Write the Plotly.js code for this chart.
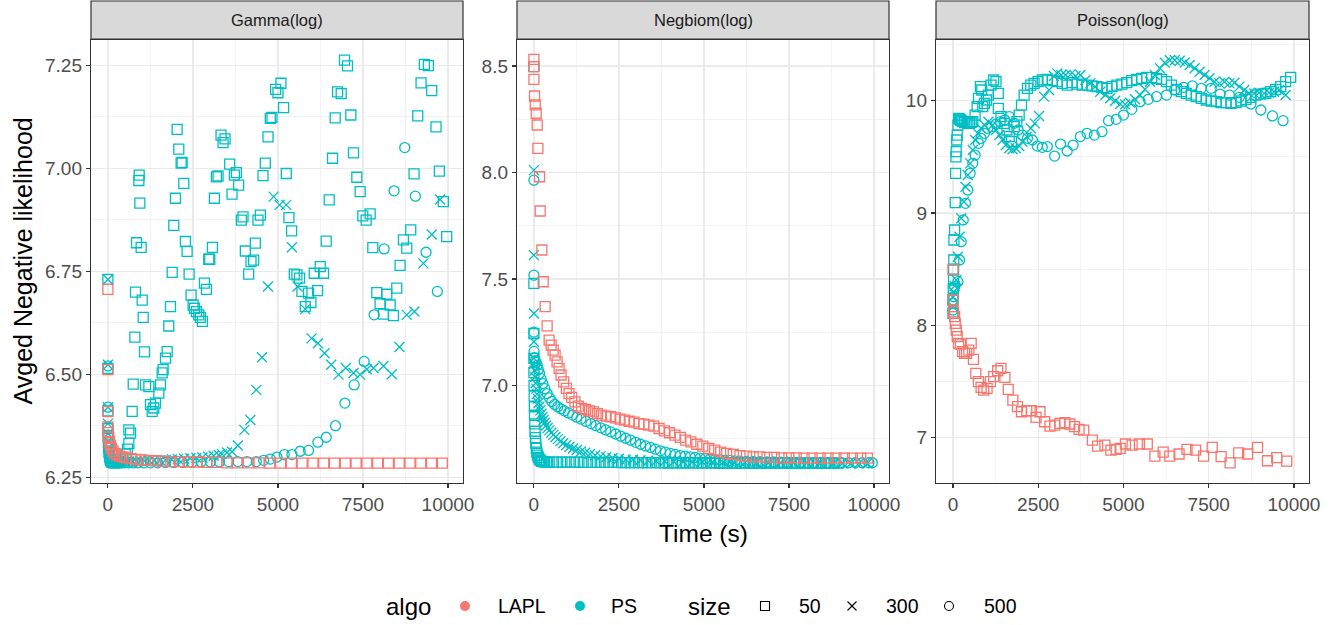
<!DOCTYPE html>
<html><head><meta charset="utf-8">
<script src="https://cdn.plot.ly/plotly-3.0.1.min.js"></script>
<style>html,body{margin:0;padding:0;background:#fff}#chart{width:1341px;height:625px}</style>
</head><body><div id="chart"></div>
<script>
// ---------------- DATA ----------------
const panelNames = ['Gamma(log)', 'Negbiom(log)', 'Poisson(log)'];
const algoNames = ['LAPL', 'PS'];
const sizeNames = ['50', '300', '500'];
const xTickVals = [0, 2500, 5000, 7500, 10000];

// Gamma(log)
const gammaLapl = [[0,6.706],[0,6.511],[0,6.409],[0,6.372],[10,6.358],[25,6.347],[45,6.337],[72,6.328],[106,6.320],[148,6.313],[200,6.308],[265,6.304],[345,6.301],[440,6.299],[550,6.297],[680,6.295],[830,6.293],[1000,6.292],[1190,6.291],[1395,6.290],[1615,6.289],[1850,6.288],[2100,6.288],[2360,6.287],[2630,6.287],[2910,6.286],[3200,6.286],[3500,6.285],[3810,6.285],[4127,6.285],[4444,6.285],[4761,6.284],[5078,6.284],[5395,6.284],[5712,6.284],[6029,6.284],[6346,6.284],[6663,6.284],[6980,6.284],[7297,6.284],[7614,6.284],[7931,6.284],[8248,6.284],[8565,6.284],[8882,6.284],[9199,6.284],[9516,6.284],[9833,6.284]];
const gammaPs50 = [[0,6.730],[0,6.514],[0,6.411],[0,6.368],[6,6.350],[14,6.334],[24,6.320],[36,6.309],[50,6.300],[66,6.294],[85,6.290],[108,6.287],[135,6.286],[168,6.285],[208,6.285],[255,6.286],[310,6.288],[372,6.292],[440,6.298],[510,6.306],[575,6.318],[616,6.332],[666,6.357],[616,6.365],[714,6.410],[744,6.476],[793,6.590],[812,6.699],[842,6.819],[910,6.970],[920,6.983],[939,6.915],[978,6.808],[1008,6.680],[1037,6.638],[1076,6.554],[1106,6.474],[1204,6.470],[1252,6.426],[1301,6.410],[1350,6.418],[1399,6.430],[1497,6.454],[1546,6.474],[1595,6.503],[1624,6.511],[1693,6.539],[1742,6.555],[1791,6.617],[1840,6.664],[1889,6.747],[1937,6.861],[1986,6.927],[2035,7.094],[2084,7.046],[2153,7.012],[2182,7.014],[2231,6.963],[2280,6.822],[2329,6.798],[2388,6.743],[2446,6.692],[2505,6.668],[2544,6.660],[2603,6.652],[2671,6.644],[2720,6.638],[2779,6.628],[2838,6.721],[2897,6.706],[2965,6.779],[2995,6.779],[3073,6.808],[3131,6.927],[3190,6.979],[3239,6.981],[3327,7.080],[3386,7.062],[3444,7.071],[3581,7.010],[3650,6.937],[3718,6.983],[3777,6.989],[3845,6.959],[3924,6.874],[3973,6.882],[4041,6.799],[4139,6.743],[4208,6.773],[4286,6.777],[4335,6.818],[4413,6.874],[4482,6.886],[4560,6.982],[4628,7.012],[4707,7.076],[4775,7.121],[4824,7.123],[4932,7.191],[5000,7.183],[5088,7.206],[5166,7.147],[5245,6.987],[5323,6.880],[5401,6.848],[5480,6.743],[5558,6.741],[5636,6.733],[5705,6.701],[5803,6.664],[5900,6.697],[5969,6.674],[6067,6.745],[6165,6.703],[6243,6.761],[6341,6.745],[6419,6.823],[6507,6.923],[6605,7.024],[6683,7.122],[6752,7.185],[6859,7.181],[6957,7.262],[7045,7.248],[7143,7.129],[7221,7.037],[7319,6.978],[7417,6.943],[7495,6.884],[7593,6.874],[7711,6.889],[7789,6.807],[7906,6.698],[8004,6.671],[8102,6.646],[8200,6.694],[8298,6.668],[8396,6.642],[8493,6.709],[8591,6.764],[8689,6.826],[8787,6.806],[8904,6.850],[9002,6.986],[9110,7.127],[9208,7.207],[9305,7.252],[9423,7.249],[9521,7.188],[9648,7.100],[9746,6.993],[9863,6.919],[9961,6.834]];
const gammaPs300 = [[0,6.730],[0,6.523],[0,6.420],[0,6.380],[5,6.356],[11,6.338],[19,6.323],[29,6.311],[41,6.302],[56,6.296],[74,6.292],[95,6.289],[120,6.287],[150,6.286],[185,6.285],[225,6.285],[270,6.285],[320,6.286],[380,6.286],[450,6.287],[530,6.287],[620,6.288],[720,6.288],[830,6.289],[950,6.289],[1080,6.290],[1220,6.290],[1370,6.291],[1530,6.291],[1700,6.292],[1880,6.293],[2060,6.294],[2240,6.295],[2420,6.296],[2600,6.297],[2780,6.298],[2950,6.300],[3110,6.302],[3260,6.304],[3357,6.306],[3504,6.310],[3651,6.312],[3820,6.327],[4012,6.365],[4188,6.389],[4364,6.462],[4531,6.541],[4707,6.713],[4873,6.931],[5049,6.911],[5245,6.911],[5411,6.808],[5577,6.713],[5803,6.658],[5988,6.587],[6174,6.575],[6370,6.551],[6566,6.523],[6781,6.499],[6996,6.515],[7221,6.503],[7417,6.499],[7613,6.512],[7808,6.515],[8102,6.520],[8347,6.500],[8572,6.566],[8787,6.644],[9012,6.652],[9276,6.769],[9521,6.839],[9765,6.924]];
const gammaPs500 = [[0,6.520],[0,6.420],[0,6.372],[5,6.352],[11,6.336],[19,6.322],[29,6.311],[41,6.302],[56,6.296],[74,6.292],[95,6.289],[120,6.287],[150,6.286],[185,6.285],[225,6.285],[275,6.285],[335,6.285],[410,6.285],[500,6.285],[610,6.285],[740,6.285],[890,6.285],[1060,6.285],[1250,6.285],[1460,6.285],[1690,6.286],[1940,6.286],[2200,6.286],[2470,6.286],[2740,6.287],[3010,6.287],[3280,6.287],[3550,6.288],[3820,6.288],[4090,6.288],[4364,6.288],[4579,6.291],[4775,6.294],[4971,6.299],[5186,6.305],[5411,6.305],[5656,6.313],[5900,6.315],[6174,6.335],[6419,6.347],[6693,6.375],[6967,6.430],[7241,6.474],[7535,6.531],[7828,6.644],[8122,6.804],[8415,6.945],[8728,7.050],[9041,6.932],[9354,6.796],[9687,6.701]];

// Negbiom(log)
const negbLapl = [[0,8.531],[0,8.497],[0,8.437],[19,8.359],[39,8.317],[68,8.278],[97,8.223],[117,8.113],[166,7.980],[185,7.819],[234,7.636],[273,7.487],[331,7.370],[389,7.280],[448,7.213],[506,7.189],[565,7.166],[623,7.142],[682,7.111],[740,7.080],[798,7.049],[876,7.017],[954,6.986],[1032,6.962],[1110,6.944],[1207,6.923],[1305,6.903],[1402,6.892],[1519,6.887],[1636,6.881],[1753,6.876],[1870,6.868],[1986,6.861],[2123,6.856],[2259,6.853],[2395,6.848],[2532,6.842],[2668,6.837],[2804,6.832],[2941,6.828],[3087,6.821],[3233,6.818],[3379,6.814],[3525,6.809],[3681,6.798],[3836,6.787],[3992,6.778],[4148,6.767],[4304,6.756],[4460,6.743],[4615,6.735],[4791,6.724],[4966,6.715],[5141,6.704],[5316,6.696],[5492,6.687],[5667,6.681],[5862,6.676],[6057,6.671],[6251,6.668],[6446,6.665],[6641,6.665],[6855,6.662],[7069,6.662],[7283,6.660],[7497,6.660],[7712,6.660],[7945,6.659],[8179,6.659],[8413,6.659],[8646,6.659],[8880,6.659],[9124,6.659],[9367,6.659],[9611,6.659],[9805,6.659]];
const negbPs50 = [[0,8.497],[0,7.479],[0,7.244],[0,7.127],[0,7.060],[4,7.000],[8,6.950],[13,6.900],[19,6.860],[26,6.820],[34,6.785],[44,6.755],[56,6.728],[70,6.705],[87,6.687],[107,6.673],[130,6.662],[157,6.654],[188,6.648],[224,6.644],[265,6.642],[312,6.641],[365,6.640],[450,6.640],[575,6.640],[700,6.640],[825,6.640],[950,6.640],[1075,6.640],[1200,6.640],[1325,6.640],[1450,6.639],[1575,6.639],[1700,6.639],[1825,6.639],[1950,6.639],[2075,6.639],[2200,6.639],[2325,6.639],[2450,6.639],[2575,6.638],[2700,6.638],[2825,6.638],[2950,6.638],[3075,6.638],[3200,6.638],[3325,6.638],[3450,6.638],[3575,6.638],[3700,6.638],[3825,6.637],[3950,6.637],[4075,6.637],[4200,6.637],[4325,6.637],[4450,6.637],[4575,6.637],[4700,6.637],[4825,6.637],[4950,6.637],[5075,6.637],[5200,6.637],[5325,6.636],[5450,6.636],[5575,6.636],[5700,6.636],[5825,6.636],[5950,6.636],[6075,6.636],[6200,6.636],[6325,6.636],[6450,6.636],[6575,6.636],[6700,6.636],[6825,6.636],[6950,6.636],[7075,6.636],[7200,6.635],[7325,6.635],[7450,6.635],[7575,6.635],[7700,6.635],[7825,6.635],[7950,6.635],[8075,6.635],[8200,6.635],[8325,6.635],[8450,6.635],[8575,6.635],[8700,6.635],[8825,6.635],[8950,6.635]];
const negbPs300 = [[0,8.011],[0,7.612],[0,7.338],[0,7.205],[0,7.127],[8,7.100],[20,7.070],[35,7.040],[52,7.010],[70,6.985],[90,6.960],[112,6.938],[136,6.918],[162,6.900],[190,6.883],[220,6.867],[252,6.852],[285,6.838],[320,6.825],[360,6.812],[405,6.800],[455,6.789],[510,6.778],[570,6.768],[635,6.758],[705,6.748],[780,6.738],[860,6.729],[950,6.720],[1045,6.712],[1150,6.704],[1260,6.697],[1380,6.690],[1510,6.684],[1650,6.678],[1800,6.672],[1960,6.667],[2130,6.663],[2310,6.659],[2500,6.656],[2700,6.653],[2910,6.651],[3130,6.649],[3360,6.647],[3600,6.645],[3850,6.644],[4110,6.643],[4380,6.642],[4660,6.641],[4950,6.640],[5250,6.640],[5560,6.639],[5880,6.639],[6210,6.638],[6550,6.638],[6900,6.637],[7260,6.637],[7630,6.636],[8010,6.636],[8400,6.636],[8800,6.635],[9075,6.635],[9320,6.635],[9560,6.635],[9805,6.635]];
const negbPs500 = [[0,7.964],[0,7.518],[0,7.250],[5,7.160],[15,7.130],[35,7.115],[60,7.108],[97,7.095],[130,7.075],[166,7.056],[210,7.032],[263,7.009],[320,6.985],[389,6.962],[455,6.942],[526,6.925],[610,6.911],[701,6.900],[796,6.890],[896,6.881],[1015,6.871],[1139,6.861],[1260,6.851],[1383,6.842],[1530,6.831],[1675,6.821],[1820,6.811],[1967,6.801],[2113,6.791],[2259,6.782],[2405,6.772],[2551,6.762],[2697,6.752],[2843,6.743],[2990,6.733],[3135,6.724],[3280,6.716],[3427,6.709],[3573,6.701],[3720,6.693],[3866,6.687],[4012,6.681],[4158,6.676],[4304,6.671],[4450,6.668],[4596,6.665],[4742,6.662],[4888,6.659],[5034,6.656],[5180,6.654],[5326,6.652],[5472,6.651],[5618,6.649],[5764,6.648],[5910,6.646],[6057,6.645],[6250,6.644],[6450,6.643],[6650,6.642],[6850,6.641],[7050,6.641],[7250,6.640],[7450,6.640],[7650,6.639],[7850,6.639],[8050,6.638],[8250,6.638],[8450,6.638],[8650,6.637],[8850,6.637],[9050,6.637],[9250,6.637],[9450,6.637],[9650,6.637],[9850,6.637],[9951,6.637]];

// Poisson(log)
const poisLapl = [[0,8.499],[0,8.226],[19,8.120],[49,8.077],[68,8.018],[97,7.958],[126,7.899],[165,7.840],[223,7.834],[282,7.766],[340,7.751],[398,7.751],[466,7.780],[534,7.840],[602,7.697],[670,7.573],[748,7.499],[825,7.448],[903,7.424],[1000,7.439],[1097,7.499],[1194,7.543],[1311,7.596],[1408,7.617],[1524,7.537],[1621,7.430],[1757,7.335],[1893,7.276],[2010,7.231],[2165,7.240],[2301,7.240],[2437,7.181],[2553,7.231],[2689,7.142],[2845,7.104],[2981,7.113],[3136,7.128],[3282,7.134],[3427,7.122],[3563,7.098],[3699,7.074],[3835,7.068],[4088,6.979],[4243,6.926],[4456,6.935],[4631,6.890],[4787,6.896],[4903,6.905],[5058,6.944],[5253,6.935],[5466,6.944],[5699,6.944],[5922,6.837],[6165,6.872],[6359,6.837],[6631,6.855],[6864,6.896],[7117,6.890],[7350,6.837],[7602,6.914],[7864,6.831],[8126,6.776],[8379,6.866],[8641,6.855],[8932,6.914],[9223,6.795],[9495,6.822],[9787,6.792]];
const poisPs50 = [[0,8.107],[0,8.226],[10,8.330],[19,8.404],[19,8.500],[24,8.582],[29,8.760],[49,8.849],[68,9.092],[78,9.353],[88,9.500],[97,9.546],[110,9.650],[126,9.694],[146,9.783],[165,9.843],[190,9.835],[223,9.828],[255,9.820],[291,9.813],[340,9.808],[388,9.804],[437,9.800],[485,9.798],[535,9.805],[583,9.813],[650,9.872],[709,9.947],[748,10.021],[806,10.125],[845,10.095],[874,9.947],[922,9.976],[981,10.006],[1039,10.050],[1117,10.139],[1194,10.184],[1262,10.169],[1330,10.065],[1330,9.932],[1408,9.858],[1505,9.798],[1583,9.739],[1650,9.680],[1718,9.635],[1796,9.769],[1874,9.813],[1942,9.872],[2010,9.961],[2087,10.050],[2185,10.110],[2282,10.139],[2379,10.154],[2495,10.169],[2621,10.184],[2767,10.190],[2913,10.178],[3058,10.169],[3204,10.154],[3350,10.139],[3495,10.160],[3641,10.148],[3787,10.139],[3932,10.139],[4078,10.131],[4223,10.125],[4369,10.116],[4515,10.110],[4660,10.125],[4806,10.139],[4952,10.148],[5097,10.160],[5243,10.178],[5388,10.190],[5534,10.199],[5680,10.208],[5825,10.205],[5971,10.196],[6117,10.190],[6262,10.169],[6408,10.139],[6553,10.101],[6699,10.080],[6845,10.065],[6990,10.050],[7136,10.036],[7282,10.021],[7427,10.006],[7573,9.997],[7719,9.991],[7864,9.982],[8010,9.982],[8156,9.976],[8301,9.982],[8447,9.997],[8593,10.012],[8738,10.030],[8884,10.050],[9029,10.059],[9175,10.065],[9321,10.080],[9466,10.101],[9612,10.125],[9757,10.169],[9903,10.208]];
const poisPs300 = [[0,8.166],[0,8.250],[19,8.300],[49,8.350],[97,8.404],[146,8.611],[194,8.789],[243,8.953],[320,9.101],[369,9.234],[437,9.338],[505,9.442],[583,9.561],[650,9.650],[728,9.709],[825,9.754],[922,9.783],[1039,9.813],[1165,9.783],[1262,9.739],[1359,9.694],[1456,9.650],[1553,9.605],[1650,9.576],[1748,9.567],[1845,9.576],[1942,9.596],[2039,9.635],[2165,9.680],[2282,9.754],[2398,9.798],[2524,9.864],[2670,10.036],[2816,10.095],[2961,10.220],[3058,10.243],[3175,10.228],[3301,10.228],[3447,10.234],[3592,10.220],[3738,10.228],[3884,10.184],[4029,10.154],[4175,10.125],[4320,10.080],[4466,10.050],[4612,10.021],[4757,10.000],[4903,9.970],[5049,9.967],[5194,9.982],[5340,10.012],[5486,10.050],[5631,10.101],[5777,10.169],[5922,10.228],[6068,10.288],[6214,10.338],[6359,10.360],[6505,10.360],[6651,10.355],[6796,10.340],[6942,10.318],[7088,10.288],[7233,10.258],[7379,10.228],[7524,10.199],[7670,10.169],[7816,10.154],[7961,10.169],[8107,10.154],[8253,10.160],[8398,10.125],[8544,10.095],[8690,10.065],[8835,10.065],[8981,10.071],[9126,10.065],[9272,10.071],[9418,10.080],[9563,10.095],[9757,10.050]];
const poisPs500 = [[0,8.136],[0,8.200],[19,8.255],[49,8.344],[146,8.389],[194,8.582],[243,8.745],[301,8.938],[369,9.086],[437,9.205],[505,9.353],[583,9.442],[650,9.516],[748,9.620],[825,9.665],[922,9.709],[1019,9.754],[1136,9.769],[1262,9.792],[1388,9.813],[1524,9.828],[1650,9.858],[1796,9.798],[1913,9.739],[2039,9.694],[2185,9.665],[2330,9.650],[2476,9.596],[2621,9.585],[2767,9.591],[2981,9.507],[3155,9.614],[3350,9.552],[3524,9.605],[3738,9.680],[3932,9.709],[4146,9.694],[4369,9.724],[4563,9.822],[4787,9.834],[5000,9.872],[5243,9.923],[5486,9.991],[5728,10.012],[5971,10.036],[6262,10.050],[6505,10.095],[6767,10.119],[7020,10.131],[7282,10.110],[7573,10.110],[7835,10.059],[8107,10.050],[8398,10.030],[8738,9.970],[9029,9.917],[9369,9.864],[9680,9.822]];

// ---------------- STYLE ----------------
const COL = {LAPL: '#F8766D', PS: '#00BFC4'};
const SYM = {'50': 'square-open', '300': 'x-thin-open', '500': 'circle-open'};
const FONT = '"Liberation Sans", Arial, Helvetica, sans-serif';
const W = 1341, H = 625;
const px = v => v / W, py = v => 1 - v / H;

const panelsPx = [[91, 463], [517, 889], [936, 1309]];
const plotTop = 40, plotBottom = 483, stripTop = 1, stripBottom = 39;
const yRanges = [[6.236, 7.311], [6.542, 8.622], [6.597, 10.54]];
const yDticks = [0.25, 0.5, 1];
const yFormats = ['.2f', '.1f', '.0f'];
const xRange = [-497, 10441];
const TICK_SIZE = 19;

const panelData = [
  {LAPL: gammaLapl, '50': gammaPs50, '300': gammaPs300, '500': gammaPs500},
  {LAPL: negbLapl, '50': negbPs50, '300': negbPs300, '500': negbPs500},
  {LAPL: poisLapl, '50': poisPs50, '300': poisPs300, '500': poisPs500}
];

function trace(pts, i, algo, size) {
  const sfx = i === 0 ? '' : String(i + 1);
  return {
    type: 'scatter', mode: 'markers',
    x: pts.map(p => p[0]), y: pts.map(p => p[1]),
    xaxis: 'x' + sfx, yaxis: 'y' + sfx,
    marker: {symbol: SYM[size], size: 10, color: COL[algo],
             line: {color: COL[algo], width: 1.3}},
    hoverinfo: 'skip', showlegend: false
  };
}

const traces = [];
panelData.forEach((d, i) => {
  sizeNames.forEach(s => traces.push(trace(d[s], i, 'PS', s)));
  traces.push(trace(d.LAPL, i, 'LAPL', '50'));
});

const layout = {
  width: W, height: H, margin: {l: 0, r: 0, t: 0, b: 0},
  paper_bgcolor: '#ffffff', plot_bgcolor: '#ffffff', showlegend: false,
  font: {family: FONT, color: '#000000'},
  shapes: [], annotations: []
};

panelsPx.forEach((p, i) => {
  const sfx = i === 0 ? '' : String(i + 1);
  layout['xaxis' + sfx] = {
    domain: [px(p[0]), px(p[1])], anchor: 'y' + sfx, range: xRange,
    tickmode: 'array', tickvals: xTickVals, tickformat: 'd',
    showgrid: true, gridcolor: '#ebebeb', gridwidth: 1.2, zeroline: false,
    minor: {tickmode: 'array', tickvals: [1250, 3750, 6250, 8750], showgrid: true, gridcolor: '#ebebeb', gridwidth: 0.6, ticks: ''},
    ticks: 'outside', ticklen: 4, tickwidth: 1.1, tickcolor: '#333333',
    showline: true, mirror: true, linecolor: '#333333', linewidth: 1.2,
    tickfont: {family: FONT, size: TICK_SIZE, color: '#4d4d4d'}
  };
  const dt = yDticks[i];
  layout['yaxis' + sfx] = {
    domain: [py(plotBottom), py(plotTop)], anchor: 'x' + sfx, range: yRanges[i],
    tickmode: 'linear', tick0: 0, dtick: dt, tickformat: yFormats[i],
    showgrid: true, gridcolor: '#ebebeb', gridwidth: 1.2, zeroline: false,
    minor: {tickmode: 'linear', tick0: dt / 2, dtick: dt, showgrid: true, gridcolor: '#ebebeb', gridwidth: 0.6, ticks: ''},
    ticks: 'outside', ticklen: 4, tickwidth: 1.1, tickcolor: '#333333',
    showline: true, mirror: true, linecolor: '#333333', linewidth: 1.2,
    tickfont: {family: FONT, size: TICK_SIZE, color: '#4d4d4d'}
  };
  layout.shapes.push({type: 'rect', xref: 'paper', yref: 'paper',
    x0: px(p[0]), x1: px(p[1]), y0: py(stripBottom), y1: py(stripTop),
    fillcolor: '#d9d9d9', line: {color: '#333333', width: 1.2}, layer: 'above'});
  layout.annotations.push({xref: 'paper', yref: 'paper', x: px((p[0] + p[1]) / 2), y: py((stripTop + stripBottom) / 2),
    text: panelNames[i], showarrow: false, xanchor: 'center', yanchor: 'middle',
    font: {family: FONT, size: 16.5, color: '#1a1a1a'}});
});

// axis titles
layout.annotations.push({xref: 'paper', yref: 'paper', x: px(703), y: py(533), text: 'Time (s)',
  showarrow: false, xanchor: 'center', yanchor: 'middle', font: {family: FONT, size: 24.5, color: '#000'}});
layout.annotations.push({xref: 'paper', yref: 'paper', x: px(22), y: py(261.5), text: 'Avged Negative likelihood',
  textangle: -90, showarrow: false, xanchor: 'center', yanchor: 'middle', font: {family: FONT, size: 25, color: '#000'}});

// legend
const LY = 606;
function legText(t, x, size) {
  layout.annotations.push({xref: 'paper', yref: 'paper', x: px(x), y: py(LY), text: t, showarrow: false,
    xanchor: 'left', yanchor: 'middle', font: {family: FONT, size: size, color: '#000'}});
}
legText('algo', 384, 24);
legText(algoNames[0], 496, 19.5);
legText(algoNames[1], 609, 19.5);
legText('size', 686, 24);
legText(sizeNames[0], 797, 19.5);
legText(sizeNames[1], 884, 19.5);
legText(sizeNames[2], 982, 19.5);
function dot(cx, col) {
  layout.shapes.push({type: 'circle', xref: 'paper', yref: 'paper', x0: px(cx - 5), x1: px(cx + 5), y0: py(LY + 5), y1: py(LY - 5),
    fillcolor: col, line: {color: col, width: 0}});
}
dot(465, COL.LAPL); dot(580, COL.PS);
layout.shapes.push({type: 'rect', xref: 'paper', yref: 'paper', x0: px(765 - 4.5), x1: px(765 + 4.5), y0: py(LY + 4.5), y1: py(LY - 4.5),
  line: {color: '#000', width: 1.1}});
layout.shapes.push({type: 'line', xref: 'paper', yref: 'paper', x0: px(852 - 4.5), x1: px(852 + 4.5), y0: py(LY + 4.5), y1: py(LY - 4.5), line: {color: '#000', width: 1.1}});
layout.shapes.push({type: 'line', xref: 'paper', yref: 'paper', x0: px(852 - 4.5), x1: px(852 + 4.5), y0: py(LY - 4.5), y1: py(LY + 4.5), line: {color: '#000', width: 1.1}});
layout.shapes.push({type: 'circle', xref: 'paper', yref: 'paper', x0: px(949 - 4.5), x1: px(949 + 4.5), y0: py(LY + 4.5), y1: py(LY - 4.5),
  line: {color: '#000', width: 1.1}});

Plotly.newPlot('chart', traces, layout, {staticPlot: true, displayModeBar: false});
</script></body></html>
